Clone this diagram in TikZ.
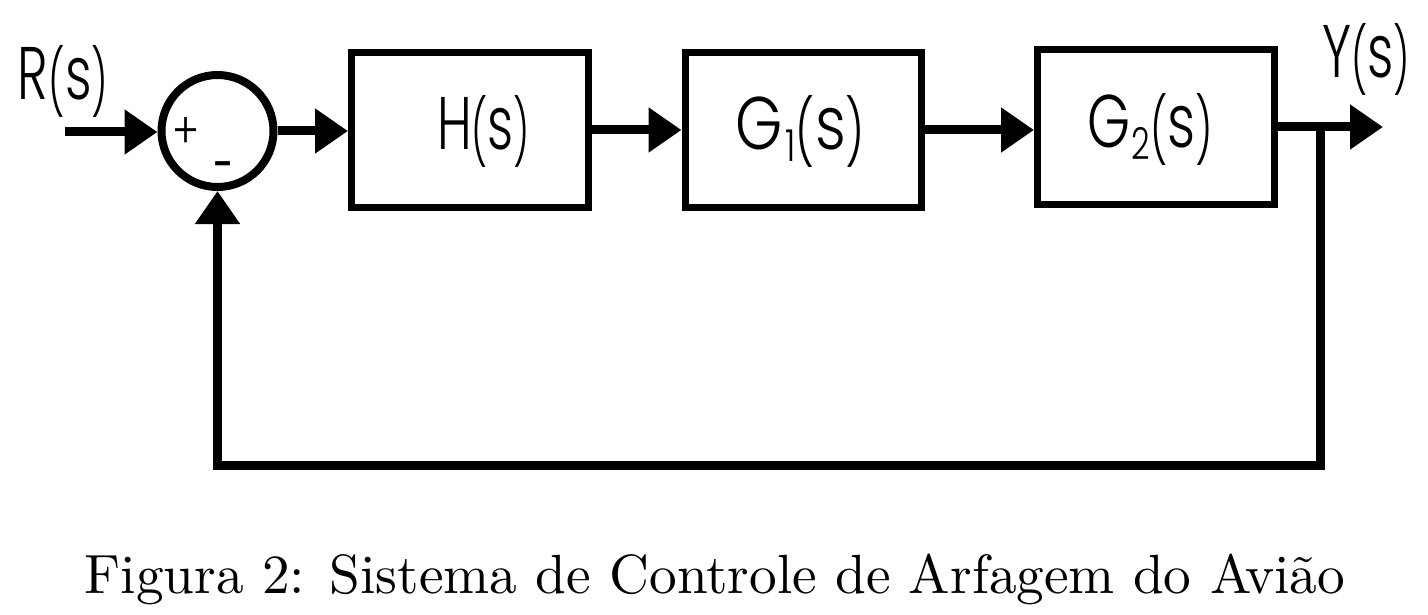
\documentclass[tikz,border=0pt]{standalone}
\usepackage{fontspec}
\usetikzlibrary{arrows.meta}
\newfontfamily\lblfont{Poppins Light}
\newfontfamily\regfont{Poppins}
% parentheses: 72pt tall, bottom 17pt below baseline
\newcommand\tallp[1]{\raisebox{-17pt}{\resizebox*{\width}{72pt}{\raisebox{\depth}{\fontsize{56}{56}\selectfont #1}}}}
\newcommand\subdig[1]{\raisebox{-12pt}{\fontsize{44}{44}\selectfont #1}}
\newcommand\lbltext[2]{\resizebox{#1}{\height}{\fontsize{74.5}{74.5}\selectfont #2}}
\begin{document}
\begin{tikzpicture}[x=1pt,y=-1pt,
  blk/.style={draw, line width=7pt, inner sep=0pt, minimum width=237pt, minimum height=155pt},
  sumc/.style={draw, circle, line width=8pt, inner sep=0pt, minimum size=112pt},
  arr/.style={line width=9pt, -{Triangle[length=33pt,width=43pt]}},
  lbl/.style={inner sep=0pt, anchor=base, font=\lblfont}]
\useasboundingbox (0,0) rectangle (1428,615);
\node[sumc] (sum) at (217.5,131) {};
\node[blk] (H) at (470,130) {};
\node[blk, minimum width=236pt] (G1) at (803,130) {};
\node[blk] (G2) at (1156,127) {};
\coordinate (in) at (65,132);
\coordinate (out) at (1383,127);
\coordinate (br) at (1320,127);
\coordinate (fb) at (1320,465);
% labels
\node[lbl] (tR) at (63,100) {\lbltext{90pt}{R\tallp{(}s\tallp{)}}};
\node[lbl] (tY) at (1366,78) {\lbltext{88pt}{Y\tallp{(}s\tallp{)}}};
\node[lbl] (tH) at (483.5,150) {\lbltext{93pt}{H\tallp{(}s\tallp{)}}};
\node[lbl] (tG1) at (800,150) {\lbltext{130pt}{G\kern4pt\subdig{1}\tallp{(}s\tallp{)}}};
\node[lbl] (tG2) at (1150,148) {\lbltext{126pt}{G\kern2pt\subdig{2}\tallp{(}s\tallp{)}}};
\node[inner sep=0pt, font=\lblfont] (plus) at (186.5,133) {\resizebox*{27pt}{31pt}{+}};
\node[inner sep=0pt, font=\regfont] (minus) at (222.5,173) {\resizebox{19pt}{\height}{\fontsize{54}{54}\selectfont –}};
% connectors
\draw[arr] (in) -- (sum.west |- in);
\draw[arr] (sum.east) -- (sum.east -| H.west);
\draw[arr] (H.east) -- (G1.west);
\draw[arr] (G1.east) -- (G1.east -| G2.west);
\draw[arr] (G2.east) -- (out);
\draw[arr] (br) -- (fb) -| (sum.south);
% caption
\node[inner sep=0pt, anchor=base] (cap) at (715,593) {\resizebox{1260pt}{!}{Figura 2: Sistema de Controle de Arfagem do Avião}};
\end{tikzpicture}
\end{document}
